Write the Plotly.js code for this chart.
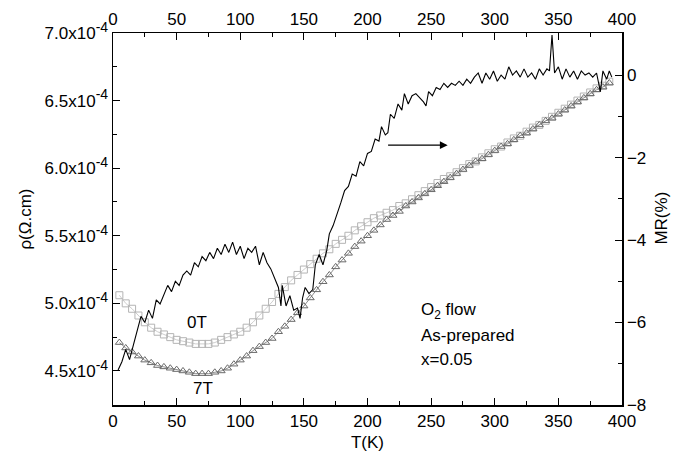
<!DOCTYPE html>
<html><head><meta charset="utf-8">
<script src="https://cdn.plot.ly/plotly-3.0.1.min.js"></script>
<style>html,body{margin:0;padding:0;background:#fff}#plot{width:673px;height:455px}</style>
</head><body><div id="plot"></div>
<script>
// Resistivity (units of 1e-4 Ohm.cm) vs T
const T_rho = [5,10,15,20,25,30,35,40,45,50,55,60,65,70,75,80,85,90,95,100,105,110,115,120,125,130,135,140,145,150,155,160,165,170,175,180,185,190,195,200,205,210,215,220,225,230,235,240,245,250,255,260,265,270,275,280,285,290,295,300,305,310,315,320,325,330,335,340,345,350,355,360,365,370,375,380,385,390];
const rho0T = [5.06,5.00,4.96,4.91,4.86,4.82,4.79,4.77,4.75,4.73,4.72,4.71,4.70,4.70,4.70,4.71,4.73,4.75,4.77,4.79,4.82,4.86,4.91,4.96,5.01,5.07,5.12,5.17,5.21,5.25,5.29,5.33,5.37,5.40,5.44,5.47,5.50,5.54,5.57,5.60,5.63,5.65,5.67,5.69,5.72,5.74,5.77,5.80,5.83,5.86,5.89,5.92,5.94,5.97,6.00,6.03,6.05,6.08,6.11,6.14,6.16,6.19,6.22,6.24,6.27,6.30,6.32,6.35,6.38,6.41,6.44,6.47,6.50,6.53,6.56,6.59,6.61,6.64];
const rho7T = [4.71,4.67,4.64,4.61,4.58,4.56,4.54,4.53,4.52,4.51,4.50,4.49,4.48,4.48,4.48,4.49,4.50,4.52,4.55,4.58,4.61,4.65,4.68,4.71,4.74,4.79,4.83,4.88,4.93,4.98,5.04,5.10,5.16,5.21,5.27,5.32,5.37,5.42,5.46,5.50,5.54,5.58,5.62,5.65,5.68,5.72,5.75,5.78,5.81,5.84,5.87,5.90,5.93,5.96,5.99,6.02,6.05,6.07,6.10,6.13,6.16,6.18,6.21,6.24,6.26,6.29,6.32,6.35,6.37,6.40,6.43,6.46,6.49,6.52,6.55,6.58,6.60,6.63];
// Magnetoresistance (%) vs T
const T_mr = [4,7,10,13,16,19,22,25,28,31,34,37,40,43,46,49,52,55,58,61,64,67,70,73,76,79,82,85,88,91,94,97,100,103,106,109,112,115,118,121,124,127,130,132,133,136,139,142,145,147,149,151,154,157,159,162,165,168,170,173,176,179,182,185,188,191,194,197,200,203,206,209,211,214,216,218,221,224,227,229,232,235,238,241,244,246,248,251,254,257,260,263,266,269,272,275,278,281,284,287,290,293,296,299,302,305,308,311,314,317,320,323,326,329,332,335,338,341,343,345,347,350,353,356,359,362,365,368,371,374,377,380,383,385,388,390,392];
const MR = [-7.15,-6.95,-6.65,-6.9,-6.55,-6.2,-5.85,-6.0,-5.7,-5.9,-5.45,-5.55,-5.3,-5.1,-5.25,-5.0,-5.1,-4.85,-4.75,-4.85,-4.55,-4.65,-4.4,-4.5,-4.3,-4.45,-4.2,-4.35,-4.1,-4.3,-4.05,-4.35,-4.15,-4.45,-4.2,-4.3,-4.15,-4.6,-4.3,-4.55,-4.7,-4.95,-5.15,-5.6,-5.1,-5.6,-5.35,-5.7,-5.65,-5.9,-5.4,-5.15,-5.3,-5.2,-4.6,-4.35,-4.6,-4.25,-3.85,-3.65,-3.4,-3.1,-2.8,-2.7,-2.4,-2.45,-2.1,-2.2,-1.9,-1.85,-1.55,-1.6,-1.25,-1.45,-1.4,-0.95,-1.05,-0.7,-0.85,-0.45,-0.7,-0.5,-0.45,-0.55,-0.65,-0.75,-0.4,-0.5,-0.3,-0.35,-0.2,-0.3,-0.2,-0.25,-0.15,-0.25,-0.1,-0.2,-0.05,0.05,-0.2,0.05,-0.1,0.1,-0.15,0.0,-0.1,0.2,0.0,0.1,-0.05,0.15,-0.05,0.05,-0.1,0.15,0.0,0.15,0.1,0.97,0.05,0.2,-0.1,0.15,-0.05,0.1,-0.1,0.1,0.0,0.05,-0.05,0.05,-0.4,0.1,-0.1,0.1,-0.05];

const xTicks = [0,50,100,150,200,250,300,350,400];
const rhoTicks = [4.5e-4,5.0e-4,5.5e-4,6.0e-4,6.5e-4,7.0e-4];
const rhoMantissa = ['4.5','5.0','5.5','6.0','6.5','7.0'];
const rhoExponent = '-4';
const mrTicks = [-8,-6,-4,-2,0];

const sc = v => v.map(a => a * 1e-4);
const FONT = 'Liberation Sans, Arial, sans-serif';
const FS = 17;
const rhoTickText = rhoMantissa.map(m => m + 'x10<sup><span style="font-size:14px">' + rhoExponent + '</span></sup>');

const traces = [
  {x: T_rho, y: sc(rho0T), xaxis:'x', yaxis:'y', mode:'lines+markers', name:'0T',
   line:{color:'#c0c0c0', width:0.8},
   marker:{symbol:'square-open', size:7, color:'#b4b4b4', line:{width:1, color:'#b4b4b4'}}},
  {x: T_rho, y: sc(rho7T), xaxis:'x', yaxis:'y', mode:'lines+markers', name:'7T',
   line:{color:'#707070', width:0.8},
   marker:{symbol:'triangle-up-open', size:7, color:'#6a6a6a', line:{width:1, color:'#6a6a6a'}}},
  {x: T_mr, y: MR, xaxis:'x2', yaxis:'y2', mode:'lines', name:'MR',
   line:{color:'#000000', width:1.1}}
];

const axCommon = {showgrid:false, zeroline:false, showline:true, linecolor:'#000', linewidth:1.5,
  ticks:'inside', ticklen:7, tickwidth:1, tickcolor:'#000', mirror:false,
  tickfont:{family:FONT, size:FS, color:'#000'}};

const layout = {
  width:673, height:455,
  margin:{l:113, r:51, t:33, b:50, pad:0},
  paper_bgcolor:'#fff', plot_bgcolor:'#fff',
  showlegend:false,
  font:{family:FONT, size:FS, color:'#000'},
  xaxis: Object.assign({}, axCommon, {range:[0,400], tickvals:xTicks, side:'bottom', anchor:'y',
    minor:{dtick:25, tick0:0, ticks:'inside', ticklen:4, tickcolor:'#000', showgrid:false},
    title:{text:'T(K)', font:{family:FONT, size:FS}, standoff:6}}),
  xaxis2: Object.assign({}, axCommon, {range:[0,400], tickvals:xTicks, side:'top', overlaying:'x', anchor:'y2',
    minor:{dtick:25, tick0:0, ticks:'inside', ticklen:4, tickcolor:'#000', showgrid:false}}),
  yaxis: Object.assign({}, axCommon, {range:[4.248e-4,7.0e-4], tickvals:rhoTicks, ticktext:rhoTickText, anchor:'x',
    minor:{dtick:0.25e-4, tick0:4.5e-4, ticks:'inside', ticklen:4, tickcolor:'#000', showgrid:false},
    title:{text:'ρ(Ω.cm)', font:{family:FONT, size:FS}, standoff:8}}),
  yaxis2: Object.assign({}, axCommon, {range:[-8,1.02], tickvals:mrTicks, side:'right', overlaying:'y', anchor:'x2',
    minor:{dtick:1, tick0:0, ticks:'inside', ticklen:4, tickcolor:'#000', showgrid:false}}),
  annotations: [
    {x:1.078, y:0.503, xref:'paper', yref:'paper', text:'MR(%)', textangle:-90, showarrow:false,
     xanchor:'center', yanchor:'middle', font:{family:FONT, size:FS}},
    {x:66, y:4.86e-4, xref:'x', yref:'y', text:'0T', showarrow:false, font:{family:FONT, size:FS}},
    {x:71, y:4.37e-4, xref:'x', yref:'y', text:'7T', showarrow:false, font:{family:FONT, size:FS}},
    {x:240.6, y:4.94e-4, xref:'x', yref:'y', text:'O<sub>2</sub> flow', xanchor:'left', showarrow:false, font:{family:FONT, size:FS}},
    {x:240.6, y:4.76e-4, xref:'x', yref:'y', text:'As-prepared', xanchor:'left', showarrow:false, font:{family:FONT, size:FS}},
    {x:240.6, y:4.585e-4, xref:'x', yref:'y', text:'x=0.05', xanchor:'left', showarrow:false, font:{family:FONT, size:FS}},
    {x:263, y:-1.7, xref:'x2', yref:'y2', ax:215, ay:-1.7, axref:'x2', ayref:'y2', text:'', showarrow:true,
     arrowhead:2, arrowsize:1.3, arrowwidth:1.2, arrowcolor:'#000'}
  ]
};

Plotly.newPlot('plot', traces, layout, {displayModeBar:false, staticPlot:true});
</script>
</body></html>
